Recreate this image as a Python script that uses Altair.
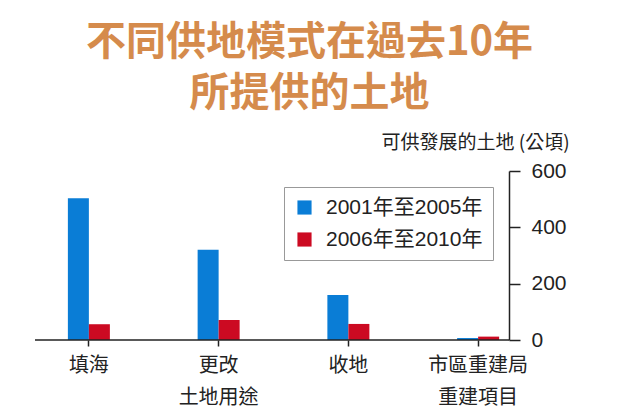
import altair as alt
import pandas as pd

categories = ["填海", "更改\n土地用途", "收地", "市區重建局\n重建項目"]
periods = ["2001年至2005年", "2006年至2010年"]
values_2001_2005 = [503, 320, 160, 7]
values_2006_2010 = [56, 71, 57, 12]
y_ticks = [0, 200, 400, 600]
colors = ["#0A7DD6", "#CC0A22"]

rows = []
for c, a, b in zip(categories, values_2001_2005, values_2006_2010):
    rows.append({"category": c, "period": periods[0], "value": a})
    rows.append({"category": c, "period": periods[1], "value": b})
df = pd.DataFrame(rows)

FONT = "'Liberation Sans', 'Noto Sans CJK TC', sans-serif"
CJK = "'Noto Sans CJK TC', sans-serif"
INK = "#222222"
ORANGE = "#D58B4C"

x_enc = alt.X(
    "category:N",
    sort=categories,
    scale=alt.Scale(paddingInner=0, paddingOuter=0),
    axis=alt.Axis(
        title=None, labelAngle=0, domain=False, ticks=True, tickSize=6,
        tickColor=INK, tickWidth=1.5,
        labelExpr="split(datum.label, '\\n')",
        labelFont=CJK, labelFontSize=20, labelLineHeight=32,
        labelPadding=9, labelColor=INK,
    ),
)
y_enc = alt.Y(
    "value:Q",
    scale=alt.Scale(domain=[0, 600], nice=False),
    axis=alt.Axis(
        orient="right", values=y_ticks, offset=-34, grid=False,
        title="可供發展的土地 (公頃)", titleAngle=0, titleX=-34, titleY=-29,
        titleAlign="center", titleBaseline="middle", titleFont=CJK,
        titleFontSize=19, titleFontWeight="normal", titleColor=INK,
        tickSize=11, tickColor=INK, tickWidth=1.5,
        domainColor=INK, domainWidth=1.5,
        labelFont=FONT, labelFontSize=21, labelPadding=11, labelColor=INK,
    ),
)
color_enc = alt.Color(
    "period:N", sort=periods,
    scale=alt.Scale(domain=periods, range=colors),
    legend=alt.Legend(
        title=None, orient="none", legendX=260, legendY=16,
        strokeColor="#999999", fillColor="white", padding=10,
        symbolType="square", symbolSize=200, symbolStrokeWidth=0,
        labelFont=FONT, labelFontSize=21, labelColor=INK,
        labelOffset=11, rowPadding=10,
    ),
)

base = alt.Chart(df).encode(x=x_enc, y=y_enc, color=color_enc)
bars_a = base.mark_bar(width=21, xOffset=-10.5).transform_filter(
    alt.datum.period == periods[0]
)
bars_b = base.mark_bar(width=21, xOffset=10.5).transform_filter(
    alt.datum.period == periods[1]
)

baseline = alt.Chart(pd.DataFrame({"v": [0]})).mark_rule(
    color=INK, strokeWidth=1.5
).encode(y=alt.datum(0), x=alt.value(11), x2=alt.value(485))

chart = alt.layer(bars_a, bars_b, baseline).properties(
    width=519,
    height=169,
    autosize=alt.AutoSizeParams(type="none"),
    padding={"left": 24, "top": 171, "right": 97, "bottom": 74},
    title=alt.TitleParams(
        text="不同供地模式在過去10年",
        subtitle="所提供的土地",
        font=CJK, fontSize=40, fontWeight="bold", color=ORANGE,
        subtitleFont=CJK, subtitleFontSize=40, subtitleFontWeight="bold",
        subtitleColor=ORANGE, subtitlePadding=11,
        anchor="middle", dx=26, offset=19,
    ),
).configure_view(stroke=None)

chart.save("out.html", embed_options={"renderer": "svg", "actions": False})
